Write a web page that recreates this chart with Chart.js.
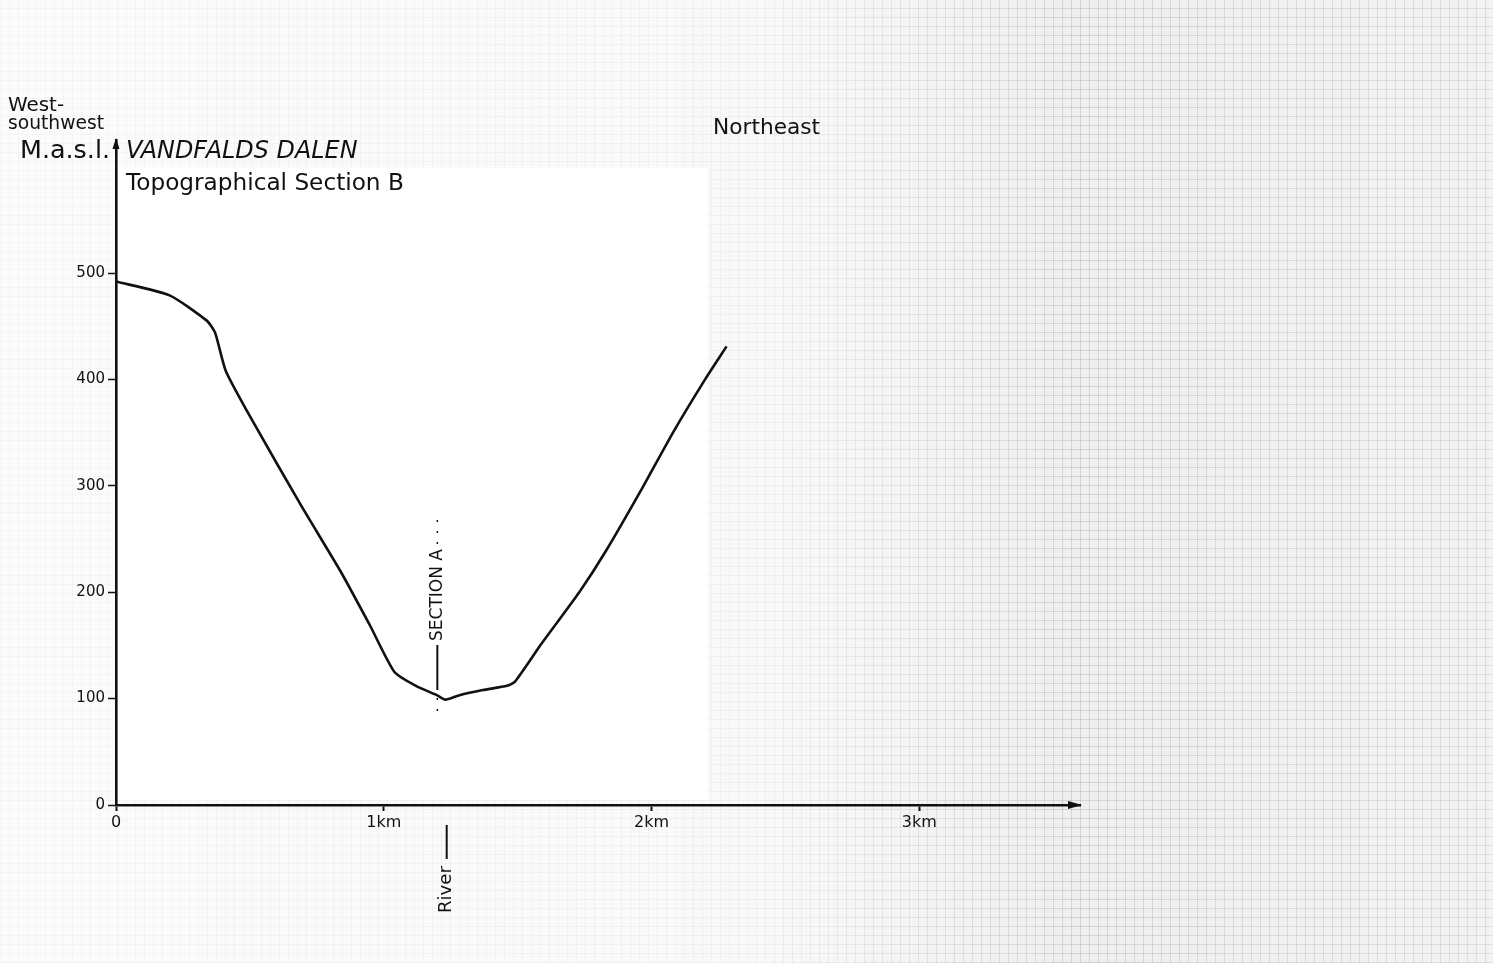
<!DOCTYPE html>
<html>
<head>
<meta charset="utf-8">
<script src="https://cdn.jsdelivr.net/npm/chart.js@4.4.0/dist/chart.umd.min.js"></script>
<style>
  html, body { margin: 0; padding: 0; }
  body {
    width: 1493px; height: 963px; overflow: hidden;
    background:
      linear-gradient(to right, rgba(255,255,255,0.8) 0%, rgba(255,255,255,0.7) 50%, rgba(255,255,255,0.15) 72%, rgba(255,255,255,0.35) 100%),
      repeating-linear-gradient(90deg, rgba(0,0,0,0.13) 0 1px, transparent 1px 9px),
      repeating-linear-gradient(0deg, rgba(0,0,0,0.13) 0 1px, transparent 1px 9px),
      #ececec;
  }
  #wrap { position: relative; width: 1493px; height: 963px; }
  #paper { position: absolute; left: 118px; top: 168px; width: 590px; height: 632px; background: #fff; }
  canvas { position: absolute; left: 0; top: 0; display: block; }
</style>
</head>
<body>
<div id="wrap">
  <div id="paper"></div>
  <canvas id="chart" width="1493" height="963"></canvas>
</div>
<script>
// profile (distance in km, height in metres above sea level)
var distanceKm = [0, 0.2, 0.34, 0.37, 0.41, 0.51, 0.69, 0.84, 0.95, 1.04, 1.12, 1.2, 1.23, 1.28, 1.37, 1.46, 1.49, 1.59, 1.73, 1.83, 1.97, 2.08, 2.2, 2.28];
var elevationM = [492, 479, 455, 444, 408, 361, 282, 219, 168, 125, 112, 103, 99, 103, 108, 112, 116, 152, 200, 239, 300, 350, 400, 431];

var xTickValues = [0, 1, 2, 3];
var xTickLabels = ['0', '1km', '2km', '3km'];
var yTickValues = [0, 100, 200, 300, 400, 500];

var sectionAKm = 1.2;
var riverKm = 1.235;

var FONT = '"DejaVu Sans", "Liberation Sans", sans-serif';

function fitText(ctx, text, x, baseline, width, style) {
    // pick a font size so the label spans the given width
    ctx.font = (style || '') + ' 20px ' + FONT;
    var size = 20 * width / ctx.measureText(text).width;
    ctx.font = (style || '') + ' ' + size.toFixed(1) + 'px ' + FONT;
    ctx.fillText(text, x, baseline);
}

var decorations = {
    id: 'decorations',
    afterDraw: function (chart) {
        var ctx = chart.ctx;
        var xs = chart.scales.x, ys = chart.scales.y;
        var x0 = xs.left, y0 = ys.bottom;
        ctx.save();
        ctx.fillStyle = '#111';
        ctx.strokeStyle = '#111';

        // arrow heads on the axes
        ctx.beginPath();
        ctx.moveTo(xs.right + 2, y0);
        ctx.lineTo(xs.right - 12, y0 - 4);
        ctx.lineTo(xs.right - 12, y0 + 4);
        ctx.closePath();
        ctx.fill();
        ctx.beginPath();
        ctx.moveTo(x0, ys.top - 2);
        ctx.lineTo(x0 - 3.5, ys.top + 9);
        ctx.lineTo(x0 + 3.5, ys.top + 9);
        ctx.closePath();
        ctx.fill();

        // titles
        ctx.textAlign = 'left';
        ctx.textBaseline = 'alphabetic';
        fitText(ctx, 'West-', 8, 111, 56);
        fitText(ctx, 'southwest', 8, 129, 96);
        fitText(ctx, 'M.a.s.l.', 20, 158, 90);
        fitText(ctx, 'VANDFALDS DALEN', 126, 158, 232, 'italic');
        fitText(ctx, 'Topographical Section B', 126, 190, 278);
        fitText(ctx, 'Northeast', 713, 134, 107);

        // section A marker
        var sx = xs.getPixelForValue(sectionAKm);
        ctx.lineWidth = 2;
        ctx.beginPath();
        ctx.moveTo(sx, 645);
        ctx.lineTo(sx, 690);
        ctx.stroke();
        ctx.lineWidth = 1.5;
        ctx.setLineDash([2, 9]);
        ctx.beginPath();
        ctx.moveTo(sx, 520);
        ctx.lineTo(sx, 546);
        ctx.moveTo(sx, 698);
        ctx.lineTo(sx, 712);
        ctx.stroke();
        ctx.setLineDash([]);
        ctx.save();
        ctx.translate(sx, 641);
        ctx.rotate(-Math.PI / 2);
        ctx.textBaseline = 'middle';
        fitText(ctx, 'SECTION A', 0, 0, 92);
        ctx.restore();

        // river marker below the axis
        var rx = xs.getPixelForValue(riverKm);
        ctx.lineWidth = 2;
        ctx.beginPath();
        ctx.moveTo(rx, 825);
        ctx.lineTo(rx, 859);
        ctx.stroke();
        ctx.save();
        ctx.translate(rx, 913);
        ctx.rotate(-Math.PI / 2);
        ctx.textBaseline = 'middle';
        fitText(ctx, 'River', 0, 0, 47);
        ctx.restore();

        ctx.restore();
    }
};

var points = distanceKm.map(function (d, i) { return { x: d, y: elevationM[i] }; });

new Chart(document.getElementById('chart').getContext('2d'), {
    type: 'line',
    data: {
        datasets: [{
            label: 'Topographical Section B',
            data: points,
            borderColor: '#111',
            borderWidth: 2.6,
            pointRadius: 0,
            tension: 0.2,
            fill: false
        }]
    },
    options: {
        responsive: false,
        animation: false,
        devicePixelRatio: 1,
        layout: { padding: { left: 0, top: 140, right: 413, bottom: 0 } },
        plugins: { legend: { display: false }, tooltip: { enabled: false } },
        scales: {
            x: {
                type: 'linear',
                min: 0,
                max: 3.6,
                afterFit: function (scale) { scale.height = 158; },
                afterBuildTicks: function (scale) {
                    scale.ticks = xTickValues.map(function (v) { return { value: v }; });
                },
                ticks: {
                    color: '#111',
                    font: { family: FONT, size: 16 },
                    padding: 2,
                    maxRotation: 0,
                    autoSkip: false,
                    callback: function (v) { return xTickLabels[xTickValues.indexOf(v)]; }
                },
                grid: { drawOnChartArea: false, drawTicks: true, tickLength: 6, tickColor: '#111', tickWidth: 2 },
                border: { display: true, color: '#111', width: 2.6 }
            },
            y: {
                type: 'linear',
                min: 0,
                max: 625,
                afterFit: function (scale) { scale.width = 116; },
                afterBuildTicks: function (scale) {
                    scale.ticks = yTickValues.map(function (v) { return { value: v }; });
                },
                ticks: {
                    color: '#111',
                    font: { family: FONT, size: 15 },
                    padding: 3
                },
                grid: { drawOnChartArea: false, drawTicks: true, tickLength: 8, tickColor: '#111', tickWidth: 1.5 },
                border: { display: true, color: '#111', width: 2.6 }
            }
        }
    },
    plugins: [decorations]
});
</script>
</body>
</html>
